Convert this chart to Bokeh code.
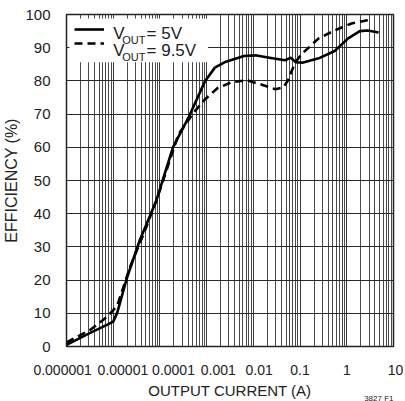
from bokeh.plotting import figure
from bokeh.models import FixedTicker, Legend, LegendItem, Label, BoxAnnotation, Title
from bokeh.embed import file_html
from bokeh.resources import INLINE

# ---- data ----
x_5v = [1e-6, 3.3e-6, 7.5e-6, 1.0e-5, 1.22e-5, 1.97e-5, 3.7e-5, 8.4e-5, 1.9e-4, 4.1e-4,
        9.3e-4, 1.5e-3, 2.4e-3, 6.3e-3, 1.1e-2, 2.2e-2, 4.75e-2, 6.3e-2, 8.1e-2, 0.112,
        0.25, 0.55, 1.07, 1.9, 2.8, 4.8]
y_5v = [0.5, 4.2, 6.6, 7.5, 10.2, 20.7, 32, 44, 60, 69,
        80, 84, 85.6, 87.5, 87.7, 87, 86.2, 87, 85.6, 85.5,
        86.8, 89, 92.8, 95, 95.2, 94.6]

x_95v = [1e-6, 3.3e-6, 7.5e-6, 1.22e-5, 2.3e-5, 4.5e-5, 8.4e-5, 1.17e-4, 2.5e-4, 5.7e-4,
         9.3e-4, 1.7e-3, 3.4e-3, 7.3e-3, 1.64e-2, 2.95e-2, 4.36e-2, 5.53e-2, 7.0e-2, 8.5e-2,
         0.112, 0.25, 0.55, 1.26, 2.6, 3.0]
y_95v = [1.2, 5.1, 9, 12.3, 24, 34, 44, 50, 64, 71,
         74.5, 77.8, 79.6, 80.2, 78.7, 77.5, 78, 80.2, 83.8, 86.2,
         88.3, 92.8, 95.2, 97.3, 98.2, 98.3]

x_ticks = [1e-6, 1e-5, 1e-4, 1e-3, 1e-2, 1e-1, 1, 10]
x_tick_labels = ["0.000001", "0.00001", "0.0001", "0.001", "0.01", "0.1", "1", "10"]
y_ticks = [0, 10, 20, 30, 40, 50, 60, 70, 80, 90, 100]

# typographic nudges of the x tick labels (no-break spaces before / after)
pad_before = [0, 5, 7, 6, 3, 0, 0, 1]
pad_after = [2, 0, 0, 0, 0, 0, 0, 0]

FONT = "Liberation Sans"
TXT = "#222222"
NB = "\u00a0"

p = figure(width=405, height=401, x_axis_type="log",
           x_range=(1e-6, 10), y_range=(0, 100),
           output_backend="svg", toolbar_location=None,
           min_border_left=58, min_border_right=12, min_border_top=14, min_border_bottom=54)

p.background_fill_color = "white"
p.border_fill_color = "white"
p.outline_line_color = "#222222"
p.outline_line_width = 1.5

minor = [k * 10 ** e for e in range(-6, 1) for k in range(2, 10)]
p.xaxis.ticker = FixedTicker(ticks=x_ticks, minor_ticks=minor)
p.xaxis.major_label_overrides = {
    t: NB * a + l + NB * b for t, l, a, b in zip(x_ticks, x_tick_labels, pad_before, pad_after)}
p.yaxis.ticker = FixedTicker(ticks=y_ticks)

for ax in (p.xaxis, p.yaxis):
    ax.axis_line_color = None
    ax.major_tick_line_color = None
    ax.minor_tick_line_color = None
    ax.major_label_text_font = FONT
    ax.major_label_text_color = TXT
    ax.axis_label_text_font = FONT
    ax.axis_label_text_font_style = "normal"
    ax.axis_label_text_color = TXT

p.xaxis.major_label_text_font_size = "14px"
p.yaxis.major_label_text_font_size = "15px"
p.xaxis.axis_label = "OUTPUT CURRENT (A)"
p.yaxis.axis_label = "EFFICIENCY (%)"
p.xaxis.axis_label_text_font_size = "15px"
p.yaxis.axis_label_text_font_size = "16px"
p.xaxis.major_label_standoff = 9
p.xaxis.axis_label_standoff = 1
p.yaxis.major_label_standoff = 10
p.yaxis.axis_label_standoff = 2

p.xgrid.grid_line_color = "#3a3a3a"
p.xgrid.grid_line_width = 1
p.xgrid.minor_grid_line_color = "#4a4a4a"
p.xgrid.minor_grid_line_width = 1
p.ygrid.grid_line_color = "#2a2a2a"
p.ygrid.grid_line_width = 1

r5 = p.line(x_5v, y_5v, line_color="black", line_width=2.6)
r95 = p.line(x_95v, y_95v, line_color="black", line_width=2.6, line_dash="8 5")

# helpers: frame-relative pixel offsets -> data coordinates (for annotations)
FW, FH = 335.0, 333.0
def fx(px):
    return 10 ** (-6 + px / FW * 7)
def fy(py):
    return 100 - py / FH * 100

# white legend background
p.add_layout(BoxAnnotation(left=fx(3), right=fx(145), top=fy(4), bottom=fy(48),
                           fill_color="white", fill_alpha=1, line_color=None))

legend = Legend(items=[LegendItem(label=" ", renderers=[r5]),
                       LegendItem(label=" ", renderers=[r95])],
                location="top_left")
legend.margin = 8
legend.padding = 4
legend.spacing = 0
legend.glyph_width = 30
legend.glyph_height = 14
legend.label_height = 14
legend.label_width = 95
legend.label_standoff = 5
legend.label_text_font_size = "8px"
legend.border_line_color = None
legend.background_fill_alpha = 0
p.add_layout(legend)

def lab(px, py, text, size):
    p.add_layout(Label(x=fx(px), y=fy(py), text=text, text_font=FONT,
                       text_font_size=size, text_color=TXT, text_baseline="middle"))

for row, rest in ((0, "= 5V"), (1, "= 9.5V")):
    mid = 19 + row * 17.5
    lab(48, mid, "V", "17px")
    lab(57, mid + 6.5, "OUT", "11px")
    lab(82, mid, rest, "17px")

try:
    fig_id = Title(text="3827 F1", align="right", vertical_align="top", text_font=FONT,
                   text_font_size="8px", text_font_style="normal", text_color=TXT,
                   standoff=-16)
except ValueError:
    fig_id = Title(text="3827 F1", align="right", vertical_align="top", text_font=FONT,
                   text_font_size="8px", text_font_style="normal", text_color=TXT,
                   standoff=0)
p.add_layout(fig_id, "below")

open("out.html", "w").write(file_html(p, INLINE))
